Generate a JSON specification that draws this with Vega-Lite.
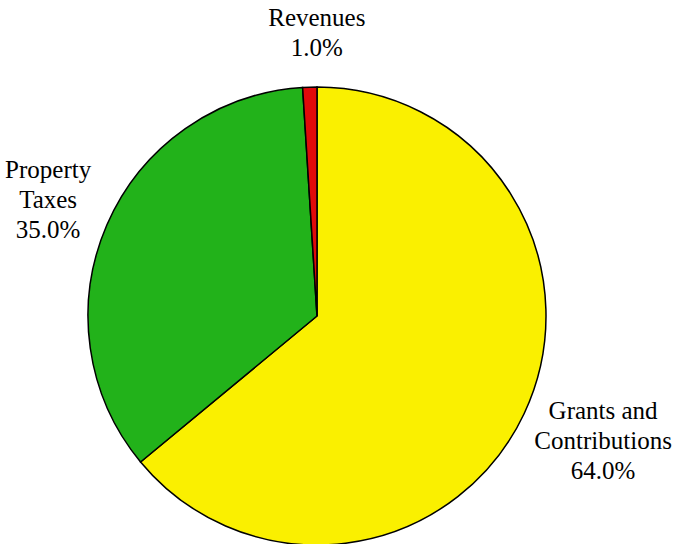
{
  "$schema": "https://vega.github.io/schema/vega-lite/v6.json",
  "width": 673,
  "height": 544,
  "autosize": "none",
  "padding": 0,
  "background": "white",
  "view": {"stroke": null},
  "config": {"font": "Liberation Serif Regular, LiberationSerif, Liberation Serif, Times New Roman, Times, DejaVu Serif"},
  "data": {
    "values": [
      {"category": "Grants and Contributions", "label": "Grants and\nContributions\n64.0%", "value": 64.0, "order": 1},
      {"category": "Property Taxes", "label": "Property\nTaxes\n35.0%", "value": 35.0, "order": 2},
      {"category": "Revenues", "label": "Revenues\n1.0%", "value": 1.0, "order": 3}
    ]
  },
  "encoding": {
    "theta": {"field": "value", "type": "quantitative", "stack": true},
    "order": {"field": "order", "type": "quantitative", "sort": "ascending"}
  },
  "layer": [
    {
      "mark": {"type": "arc", "outerRadius": 229, "x": 317, "y": 316, "stroke": "black", "strokeWidth": 1.5},
      "encoding": {
        "color": {
          "field": "category",
          "type": "nominal",
          "scale": {
            "domain": ["Grants and Contributions", "Property Taxes", "Revenues"],
            "range": ["#FAF000", "#22B21A", "#E10A0A"]
          },
          "legend": null
        }
      }
    },
    {
      "mark": {"type": "text", "x": 317, "y": 316, "radius": 293, "dx": 9, "dy": -5, "font": "Liberation Serif Regular, LiberationSerif, Liberation Serif, Times New Roman, Times, DejaVu Serif", "fontSize": 25, "lineHeight": 30, "lineBreak": "\n", "align": "center", "baseline": "middle", "color": "black"},
      "encoding": {
        "text": {"condition": {"test": "datum.category === 'Revenues'", "field": "label"}, "value": ""}
      }
    },
    {
      "mark": {"type": "text", "x": 317, "y": 316, "radius": 293, "dx": 0, "dy": -30, "font": "Liberation Serif Regular, LiberationSerif, Liberation Serif, Times New Roman, Times, DejaVu Serif", "fontSize": 25, "lineHeight": 30, "lineBreak": "\n", "align": "center", "baseline": "middle", "color": "black"},
      "encoding": {
        "text": {"condition": {"test": "datum.category === 'Property Taxes'", "field": "label"}, "value": ""}
      }
    },
    {
      "mark": {"type": "text", "x": 317, "y": 316, "radius": 293, "dx": 21, "dy": -30, "font": "Liberation Serif Regular, LiberationSerif, Liberation Serif, Times New Roman, Times, DejaVu Serif", "fontSize": 25, "lineHeight": 30, "lineBreak": "\n", "align": "center", "baseline": "middle", "color": "black"},
      "encoding": {
        "text": {"condition": {"test": "datum.category === 'Grants and Contributions'", "field": "label"}, "value": ""}
      }
    }
  ]
}
